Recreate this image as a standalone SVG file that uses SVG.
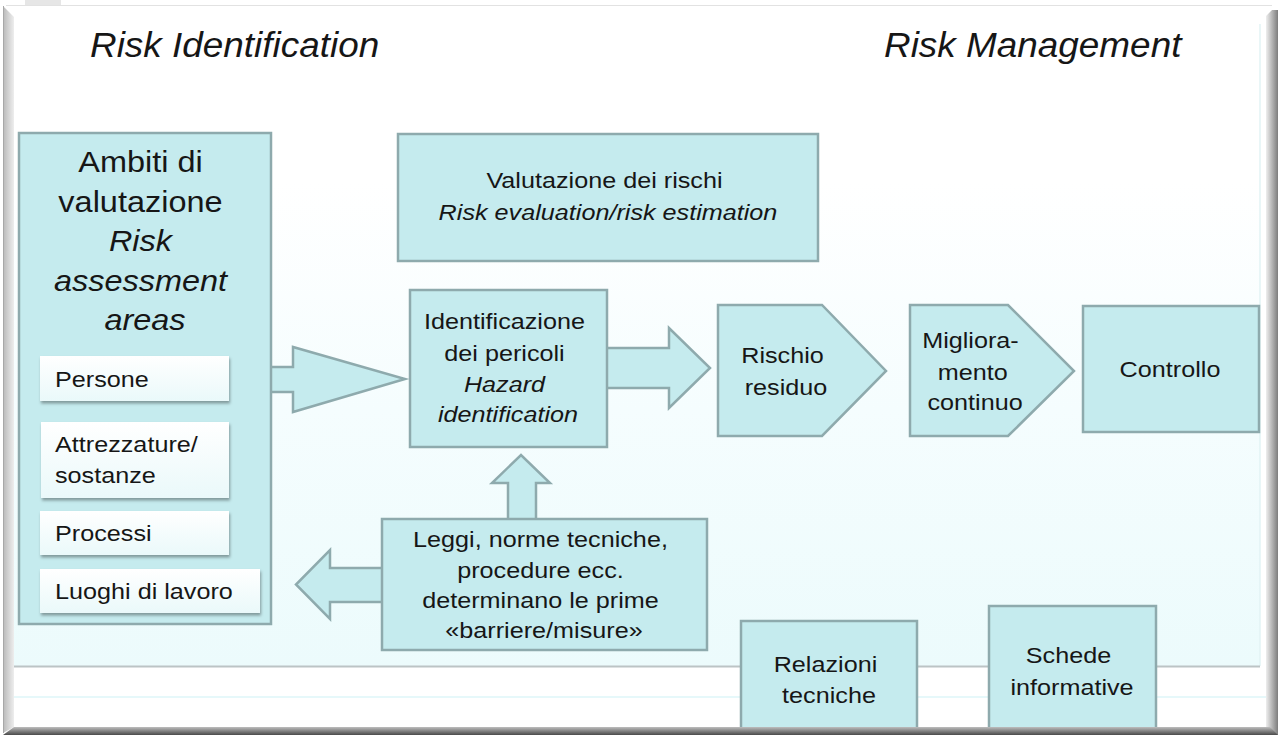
<svg xmlns="http://www.w3.org/2000/svg" width="1278" height="735" viewBox="0 0 1278 735">
  <defs>
    <linearGradient id="panelBg" x1="0" y1="0" x2="0" y2="1">
      <stop offset="0" stop-color="#ffffff"/>
      <stop offset="0.25" stop-color="#ffffff"/>
      <stop offset="0.6" stop-color="#f5fdfe"/>
      <stop offset="1" stop-color="#ecfbfc"/>
    </linearGradient>
    <linearGradient id="chipBg" x1="0" y1="0" x2="0" y2="1">
      <stop offset="0" stop-color="#ffffff"/>
      <stop offset="1" stop-color="#eaf9fa"/>
    </linearGradient>
    <linearGradient id="leftEdge" x1="0" y1="0" x2="1" y2="0">
      <stop offset="0" stop-color="#b9b9b9"/>
      <stop offset="1" stop-color="#eeeeee"/>
    </linearGradient>
    <linearGradient id="rightEdge" x1="0" y1="0" x2="1" y2="0">
      <stop offset="0" stop-color="#eeeeee"/>
      <stop offset="1" stop-color="#7d7d7d"/>
    </linearGradient>
    <linearGradient id="bottomEdge" x1="0" y1="0" x2="0" y2="1">
      <stop offset="0" stop-color="#bdbdbd"/>
      <stop offset="1" stop-color="#4a4a4a"/>
    </linearGradient>
    <filter id="chipShadow" x="-10%" y="-20%" width="120%" height="150%">
      <feDropShadow dx="1" dy="2.5" stdDeviation="1.5" flood-color="#000000" flood-opacity="0.35"/>
    </filter>
    <style>
      .box { fill: #c5ebee; stroke: #8eaaad; stroke-width: 2.5; }
      .arrowFill { fill: #c5ebee; stroke: none; }
      .arrowLine { fill: none; stroke: #8eaaad; stroke-width: 2.5; stroke-linejoin: miter; }
      .chip { fill: url(#chipBg); filter: url(#chipShadow); }
      text { font-family: "Liberation Sans", Arial, sans-serif; fill: #161616; }
      .title { font-size: 34.5px; font-style: italic; }
      .big { font-size: 29px; text-anchor: middle; }
      .t { font-size: 22.5px; text-anchor: middle; }
      .tl { font-size: 22.5px; text-anchor: start; }
      .i { font-style: italic; }
      .wide { transform: scaleX(1.12); transform-box: fill-box; transform-origin: center; }
      .wideL { transform: scaleX(1.12); transform-box: fill-box; transform-origin: left center; }
      .titleW { transform: scaleX(1.07); transform-box: fill-box; transform-origin: left center; }
    </style>
  </defs>

  <!-- page and framed panel -->
  <rect x="0" y="0" width="1278" height="735" fill="#ffffff"/>
  <rect x="25" y="0" width="36" height="5" fill="#e6e6e6"/>
  <line x1="6" y1="5.5" x2="1272" y2="5.5" stroke="#e2e2e2" stroke-width="1"/>
  <rect x="13" y="22" width="1247" height="644" fill="url(#panelBg)"/>
  <line x1="1260" y1="24" x2="1260" y2="666" stroke="#e2f3f5" stroke-width="1.5"/>
  <line x1="13" y1="666.5" x2="1260" y2="666.5" stroke="#bcc4c5" stroke-width="2"/>
  <line x1="13" y1="697" x2="1268" y2="697" stroke="#def6f8" stroke-width="1.5"/>

  <!-- headings -->
  <text class="title titleW" x="90" y="57">Risk Identification</text>
  <text class="title titleW" x="884" y="57">Risk Management</text>

  <!-- connectors: block arrows -->
  <g id="connectors">
    <g id="arrow-areas-to-hazard">
      <polygon class="arrowFill" points="271,367 293,367 293,347 405,379 293,412 293,392 271,392"/>
      <polyline class="arrowLine" points="271,367 293,367 293,347 405,379 293,412 293,392 271,392"/>
    </g>
    <g id="arrow-hazard-to-residual">
      <polygon class="arrowFill" points="607,348 669,348 669,328 710,368 669,408 669,388 607,388"/>
      <polyline class="arrowLine" points="607,348 669,348 669,328 710,368 669,408 669,388 607,388"/>
    </g>
    <g id="arrow-laws-to-hazard">
      <polygon class="arrowFill" points="508,519 508,483 492,483 521,455 550,483 536,483 536,519"/>
      <polyline class="arrowLine" points="508,519 508,483 492,483 521,455 550,483 536,483 536,519"/>
    </g>
    <g id="arrow-laws-to-areas">
      <polygon class="arrowFill" points="382,568 330,568 330,550 296,584.5 330,619 330,602 382,602"/>
      <polyline class="arrowLine" points="382,568 330,568 330,550 296,584.5 330,619 330,602 382,602"/>
    </g>
  </g>

  <!-- assessment areas -->
  <g id="node-areas">
    <rect class="box" x="19" y="133" width="252" height="491"/>
    <text class="big wide" x="145" y="172">
      <tspan x="145" y="172">Ambiti di</tspan>
      <tspan x="145" y="212">valutazione</tspan>
      <tspan x="145" y="251" class="i">Risk</tspan>
      <tspan x="145" y="291" class="i">assessment</tspan>
      <tspan x="145" y="330" class="i">areas</tspan>
    </text>
    <g id="area-persone">
      <rect class="chip" x="40" y="356" width="189" height="45"/>
      <text class="tl wideL" x="55" y="387">Persone</text>
    </g>
    <g id="area-attrezzature">
      <rect class="chip" x="41" y="422" width="188" height="76"/>
      <text class="tl wideL" x="55" y="452">
        <tspan x="55" y="452">Attrezzature/</tspan>
        <tspan x="55" y="483">sostanze</tspan>
      </text>
    </g>
    <g id="area-processi">
      <rect class="chip" x="40" y="511" width="189" height="44"/>
      <text class="tl wideL" x="55" y="541">Processi</text>
    </g>
    <g id="area-luoghi">
      <rect class="chip" x="40" y="569" width="220" height="44"/>
      <text class="tl wideL" x="55" y="599">Luoghi di lavoro</text>
    </g>
  </g>

  <!-- risk evaluation -->
  <g id="node-evaluation">
    <rect class="box" x="398" y="134" width="420" height="127"/>
    <text class="t wide" x="608" y="188">
      <tspan x="608" y="188">Valutazione dei rischi</tspan>
      <tspan x="608" y="220" class="i">Risk evaluation/risk estimation</tspan>
    </text>
  </g>

  <!-- hazard identification -->
  <g id="node-hazard">
    <rect class="box" x="410" y="290" width="197" height="157"/>
    <text class="t wide" x="508" y="329">
      <tspan x="508" y="329">Identificazione</tspan>
      <tspan x="508" y="361">dei pericoli</tspan>
      <tspan x="508" y="392" class="i">Hazard</tspan>
      <tspan x="508" y="422" class="i">identification</tspan>
    </text>
  </g>

  <!-- residual risk -->
  <g id="node-residual">
    <polygon class="box" points="718,305 822,305 886,371 822,436 718,436"/>
    <text class="t wide" x="786" y="363">
      <tspan x="786" y="363">Rischio</tspan>
      <tspan x="786" y="395">residuo</tspan>
    </text>
  </g>

  <!-- continuous improvement -->
  <g id="node-improvement">
    <polygon class="box" points="910,305 1008,305 1074,371 1008,436 910,436"/>
    <text class="t wide" x="975" y="348">
      <tspan x="974" y="348">Migliora-</tspan>
      <tspan x="976" y="380">mento</tspan>
      <tspan x="975" y="410">continuo</tspan>
    </text>
  </g>

  <!-- control -->
  <g id="node-control">
    <rect class="box" x="1083" y="306" width="176" height="126"/>
    <text class="t wide" x="1170" y="377">Controllo</text>
  </g>

  <!-- laws and standards -->
  <g id="node-laws">
    <rect class="box" x="382" y="519" width="325" height="131"/>
    <text class="t wide" x="544" y="547">
      <tspan x="544" y="547">Leggi, norme tecniche,</tspan>
      <tspan x="544" y="578">procedure ecc.</tspan>
      <tspan x="544" y="608">determinano le prime</tspan>
      <tspan x="544" y="638">«barriere/misure»</tspan>
    </text>
  </g>

  <!-- technical reports -->
  <g id="node-reports">
    <rect class="box" x="741" y="621" width="176" height="120"/>
    <text class="t wide" x="829" y="672">
      <tspan x="829" y="672">Relazioni</tspan>
      <tspan x="829" y="703">tecniche</tspan>
    </text>
  </g>

  <!-- information sheets -->
  <g id="node-sheets">
    <rect class="box" x="989" y="606" width="167" height="135"/>
    <text class="t wide" x="1072" y="663">
      <tspan x="1072" y="663">Schede</tspan>
      <tspan x="1072" y="695">informative</tspan>
    </text>
  </g>

  <!-- photo frame edges -->
  <polygon points="3,6 14,17 14,727 3,733" fill="url(#leftEdge)"/>
  <line x1="3.5" y1="6" x2="3.5" y2="733" stroke="#a8a8a8" stroke-width="1"/>
  <polygon points="1266,16 1272,10 1278,10 1278,735 1266,735" fill="url(#rightEdge)"/>
  <polygon points="3,735 14,727 1270,727 1278,735" fill="url(#bottomEdge)"/>
</svg>
